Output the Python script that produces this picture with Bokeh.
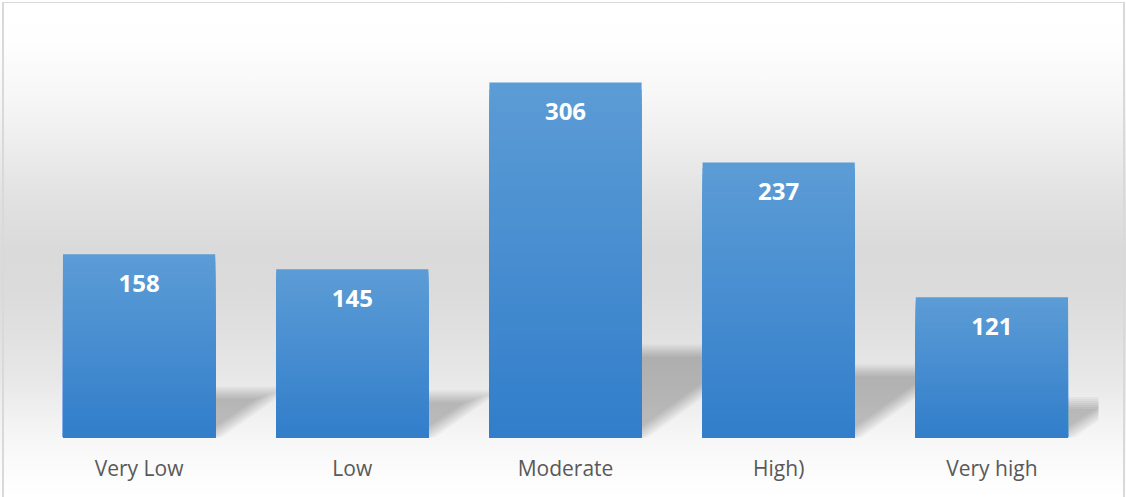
import numpy as np
from bokeh.plotting import figure
from bokeh.models import Range1d, FixedTicker, ColumnDataSource
from bokeh.core.properties import value
from bokeh.embed import file_html
from bokeh.resources import INLINE

# ---- data ----
categories = ["Very Low", "Low", "Moderate", "High)", "Very high"]
counts = [158, 145, 306, 237, 121]

W, H = 1126, 497
ML, MR, MT, MB = 32, 28, 31, 60
Y_MAX = 350

p = figure(width=W, height=H, output_backend="svg", toolbar_location=None,
           x_range=Range1d(0, len(categories)), y_range=Range1d(0, Y_MAX),
           min_border_left=ML, min_border_right=MR, min_border_top=MT,
           min_border_bottom=MB)
p.background_fill_alpha = 0
p.border_fill_alpha = 0
p.outline_line_color = None
p.grid.visible = False
p.yaxis.visible = False

bg = ("linear-gradient(#d9d9d9,#d9d9d9) 2px 2px / 2px 100% no-repeat, "
      "linear-gradient(#d9d9d9,#d9d9d9) 2px 2px / 1123px 1px no-repeat, "
      "linear-gradient(#d9d9d9,#d9d9d9) 1123px 2px / 2px 100% no-repeat, "
      "linear-gradient(to bottom, #ffffff 0px, #fefefe 40px, #f6f6f6 100px, "
      "#ececec 150px, #e1e1e1 200px, #dadada 250px, #dbdbdb 290px, "
      "#e0e0e0 330px, #e8e8e8 380px, #efefef 408px, #f6f6f6 437px, "
      "#fafafa 460px, #ffffff 497px)")
p.styles = {"background": bg}

# pixel scale of the frame
fw = W - ML - MR
fh = H - MT - MB
sx = fw / len(categories)
sy = fh / Y_MAX

xc = [i + 0.5 for i in range(len(categories))]
bar_w = 0.714

# ---- shadows (soft perspective triangles to the right of each bar) ----
slope = 0.75
sxs, sys_ = [], []
for d in [-6, -4, -2, 0, 2, 4, 6]:
    for xi, v in zip(xc, counts):
        hpx = 0.245 * v * sy
        xr = xi + bar_w / 2
        top = (hpx + d) / sy
        tip = xr + ((hpx + 2.25 * d) / slope) / sx
        bot = -1.25 * d / sy
        sxs.append([xr - 0.02, tip, xr - 0.02])
        sys_.append([top, top, bot])
p.patches(sxs, sys_, fill_color="black", fill_alpha=0.036, line_color=None)

# ---- bars with vertical gradient ----
N = 48
top_rgb = np.array([92, 156, 214])
bot_rgb = np.array([50, 126, 202])
bx, btop, bcol = [], [], []
for k in range(N):
    t = k / (N - 1)
    c = top_rgb * (1 - t) + bot_rgb * t
    col = "#%02x%02x%02x" % tuple(int(round(q)) for q in c)
    frac = (N - k) / N
    for xi, v in zip(xc, counts):
        bx.append(xi)
        btop.append(v * frac)
        bcol.append(col)
src = ColumnDataSource(dict(x=bx, top=btop, color=bcol))
p.vbar(x="x", top="top", bottom=0, width=bar_w, fill_color="color",
       line_color=None, source=src)

# ---- value labels ----
p.text(x=xc, y=counts, text=[str(v) for v in counts], text_color="white",
       text_font=value("Open Sans"), text_font_style="bold",
       text_font_size="24px", text_align="center",
       text_baseline="alphabetic", y_offset=29)

# ---- category axis ----
ax = p.xaxis[0]
ax.ticker = FixedTicker(ticks=xc)
ax.major_label_overrides = {xi: c for xi, c in zip(xc, categories)}
ax.axis_line_color = None
ax.major_tick_line_color = None
ax.minor_tick_line_color = None
ax.major_label_text_font = "Open Sans"
ax.major_label_text_font_size = "21px"
ax.major_label_text_color = "#595959"
ax.major_label_standoff = 10

open("out.html", "w").write(file_html(p, INLINE))
